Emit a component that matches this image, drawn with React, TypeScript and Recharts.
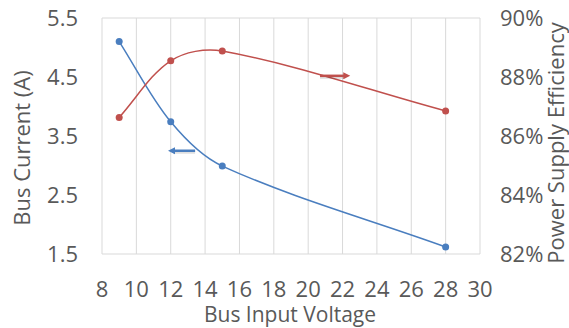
import {
    ComposedChart,
    Line,
    XAxis,
    YAxis,
    CartesianGrid,
    ReferenceLine,
} from "recharts";

// Bus input voltage (V)
const voltages = [9, 12, 15, 28];
// Bus current (A)
const busCurrent = [5.1, 3.74, 2.99, 1.62];
// Power supply efficiency (%)
const efficiency = [86.63, 88.55, 88.88, 86.85];

const xTicks = [8, 10, 12, 14, 16, 18, 20, 22, 24, 26, 28, 30];
const currentTicks = [1.5, 2.5, 3.5, 4.5, 5.5];
const effTicks = [82, 84, 86, 88, 90];

// arrow annotations: [from, to]
const currentArrow = [
    { x: 13.42, y: 3.25 },
    { x: 11.84, y: 3.25 },
];
const effArrow = [
    { x: 20.69, y: 88.04 },
    { x: 22.45, y: 88.04 },
];

const data = voltages.map((v, i) => ({
    v,
    current: busCurrent[i],
    eff: efficiency[i],
}));

const BLUE = "#4A7EBF";
const RED = "#C0504D";
const TEXT = "#595959";
const GRID = "#D9D9D9";
const FONT = "'Open Sans', sans-serif";
const FS = 22;

// Excel-like smoothed line: bezier tangents scaled by segment lengths
const excelSmooth = (context: any) => {
    let pts: number[][] = [];
    const dist = (a: number[], b: number[]) => Math.hypot(b[0] - a[0], b[1] - a[1]);
    return {
        areaStart() {},
        areaEnd() {},
        lineStart() {
            pts = [];
        },
        point(x: number, y: number) {
            pts.push([+x, +y]);
        },
        lineEnd() {
            if (!pts.length) return;
            context.moveTo(pts[0][0], pts[0][1]);
            for (let i = 0; i < pts.length - 1; i++) {
                const p0 = pts[Math.max(i - 1, 0)];
                const p1 = pts[i];
                const p2 = pts[i + 1];
                const p3 = pts[Math.min(i + 2, pts.length - 1)];
                const d01 = dist(p0, p1);
                const d12 = dist(p1, p2);
                const d23 = dist(p2, p3);
                const f1 = d12 / (3 * (d01 + d12 || 1));
                const f2 = d12 / (3 * (d12 + d23 || 1));
                context.bezierCurveTo(
                    p1[0] + (p2[0] - p0[0]) * f1,
                    p1[1] + (p2[1] - p0[1]) * f1,
                    p2[0] - (p3[0] - p1[0]) * f2,
                    p2[1] - (p3[1] - p1[1]) * f2,
                    p2[0],
                    p2[1]
                );
            }
        },
    };
};

const arrowShape = (color: string) => (props: any) => {
    const { x1, y1, x2, y2 } = props;
    const dir = x2 > x1 ? 1 : -1;
    return (
        <g>
            <line
                x1={x1}
                y1={y1 + 1.5}
                x2={x2 - dir * 5}
                y2={y2 + 1.5}
                stroke="#000"
                strokeOpacity={0.12}
                strokeWidth={3}
            />
            <line
                x1={x1}
                y1={y1}
                x2={x2 - dir * 5}
                y2={y2}
                stroke={color}
                strokeWidth={2.5}
            />
            <polygon
                points={`${x2},${y2} ${x2 - dir * 7},${y2 - 3.5} ${x2 - dir * 7},${y2 + 3.5}`}
                fill={color}
            />
        </g>
    );
};

const tickStyle = { fontSize: FS, fill: TEXT, fontFamily: FONT };

export default function App() {
    return (
        <div style={{ position: "absolute", left: 0, top: 0 }}>
            <ComposedChart
                width={569}
                height={328}
                data={data}
                margin={{ top: 18, right: 0, left: 0, bottom: 0 }}
            >
                <CartesianGrid stroke={GRID} strokeWidth={1} />
                <XAxis
                    dataKey="v"
                    type="number"
                    domain={[8, 30]}
                    ticks={xTicks}
                    interval={0}
                    height={74}
                    axisLine={false}
                    tickLine={false}
                    tickSize={0}
                    tickMargin={27}
                    tick={tickStyle}
                    label={{
                        content: () => (
                            <text
                                x={290}
                                y={322}
                                textAnchor="middle"
                                fontSize={21}
                                fill={TEXT}
                                fontFamily={FONT}
                            >
                                Bus Input Voltage
                            </text>
                        ),
                    }}
                />
                <YAxis
                    yAxisId="left"
                    domain={[1.5, 5.5]}
                    ticks={currentTicks}
                    width={102}
                    axisLine={false}
                    tickLine={false}
                    tickSize={0}
                    tickMargin={24}
                    tick={tickStyle}
                    tickFormatter={(t) => Number(t).toFixed(1)}
                    label={{
                        content: () => (
                            <text
                                transform="translate(30,148) rotate(-90)"
                                textAnchor="middle"
                                fontSize={FS}
                                fill={TEXT}
                                fontFamily={FONT}
                            >
                                Bus Current (A)
                            </text>
                        ),
                    }}
                />
                <YAxis
                    yAxisId="right"
                    orientation="right"
                    domain={[82, 90]}
                    ticks={effTicks}
                    width={89}
                    axisLine={false}
                    tickLine={false}
                    tickSize={0}
                    tickMargin={20}
                    tick={tickStyle}
                    tickFormatter={(t) => `${t}%`}
                    label={{
                        content: () => (
                            <text
                                transform="translate(564,143) rotate(-90)"
                                textAnchor="middle"
                                fontSize={FS}
                                fill={TEXT}
                                fontFamily={FONT}
                            >
                                Power Supply Efficiency
                            </text>
                        ),
                    }}
                />
                <Line
                    yAxisId="left"
                    dataKey="current"
                    type={excelSmooth as any}
                    stroke={BLUE}
                    strokeWidth={1.5}
                    dot={{ r: 3.5, fill: BLUE, stroke: BLUE, strokeWidth: 0 }}
                    isAnimationActive={false}
                />
                <Line
                    yAxisId="right"
                    dataKey="eff"
                    type={excelSmooth as any}
                    stroke={RED}
                    strokeWidth={1.5}
                    dot={{ r: 3.5, fill: RED, stroke: RED, strokeWidth: 0 }}
                    isAnimationActive={false}
                />
                <ReferenceLine
                    yAxisId="left"
                    segment={currentArrow}
                    shape={arrowShape(BLUE)}
                    ifOverflow="visible"
                />
                <ReferenceLine
                    yAxisId="right"
                    segment={effArrow}
                    shape={arrowShape(RED)}
                    ifOverflow="visible"
                />
            </ComposedChart>
        </div>
    );
}
